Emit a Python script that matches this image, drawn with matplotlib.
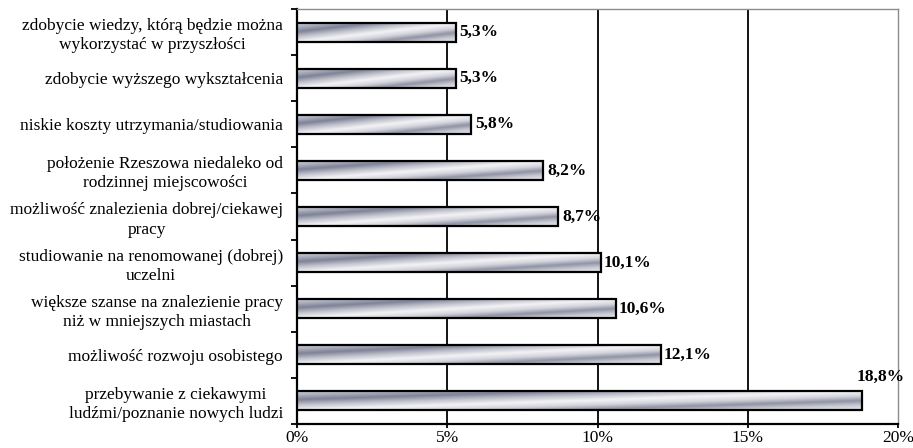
import numpy as np
import matplotlib
matplotlib.use("Agg")
import matplotlib.pyplot as plt
from matplotlib.colors import LinearSegmentedColormap
from matplotlib.patches import Rectangle

categories = [
    "zdobycie wiedzy, którą będzie można\nwykorzystać w przyszłości",
    "zdobycie wyższego wykształcenia",
    "niskie koszty utrzymania/studiowania",
    "położenie Rzeszowa niedaleko od\nrodzinnej miejscowości",
    "możliwość znalezienia dobrej/ciekawej\npracy",
    "studiowanie na renomowanej (dobrej)\nuczelni",
    "większe szanse na znalezienie pracy\nniż w mniejszych miastach",
    "możliwość rozwoju osobistego",
    "przebywanie z ciekawymi\nludźmi/poznanie nowych ludzi",
]
values = [5.3, 5.3, 5.8, 8.2, 8.7, 10.1, 10.6, 12.1, 18.8]
x_ticks = [0, 5, 10, 15, 20]
x_tick_labels = ["0%", "5%", "10%", "15%", "20%"]

plt.rcParams["font.family"] = ["Liberation Serif", "DejaVu Serif"]

fig = plt.figure(figsize=(9.13, 4.48), dpi=100)
ax = fig.add_axes([297 / 913, 1 - 424 / 448, (898 - 297) / 913, (424 - 9) / 448])

# metallic diagonal shading for the bars
stops = [(0.00, "#cfd0d8"), (0.22, "#a8abb9"), (0.45, "#7e8296"),
         (0.72, "#bfc1cc"), (1.00, "#f3f3f6"), (1.25, "#d4d5dc"),
         (1.50, "#9093a5"), (1.75, "#c8cad3"), (2.00, "#e6e7eb")]
metal = LinearSegmentedColormap.from_list(
    "metal", [(p / 2.0, c) for p, c in stops])

bar_h = 0.41
ny, nx = 40, 300
vv, uu = np.mgrid[0:1:ny * 1j, 0:1:nx * 1j]
shade = metal((vv + 1.0 * uu) / 2.0)

for i, v in enumerate(values):
    ax.imshow(shade, extent=[0, v, i + bar_h / 2, i - bar_h / 2],
              aspect="auto", interpolation="bilinear", zorder=3)
    ax.add_patch(Rectangle((0, i - bar_h / 2), v, bar_h, fill=False,
                           edgecolor="black", linewidth=1.6, zorder=4))
    label = f"{v:.1f}".replace(".", ",") + "%"
    if i == len(values) - 1:
        ax.annotate(label, (v, i), xytext=(-4, 17), textcoords="offset points",
                    ha="left", va="center", fontsize=12.5, fontweight="bold",
                    annotation_clip=False, zorder=5)
    else:
        ax.annotate(label, (v, i), xytext=(2.5, 0), textcoords="offset points",
                    ha="left", va="center", fontsize=12.5, fontweight="bold",
                    zorder=5)

ax.set_xlim(0, 20)
ax.set_ylim(len(values) - 0.5, -0.5)

for g in x_ticks[1:-1]:
    ax.axvline(g, color="black", linewidth=1.3, zorder=1)

ax.set_xticks(x_ticks)
ax.set_xticklabels(x_tick_labels, fontsize=12.5)
ax.set_yticks(range(len(categories)))
ax.set_yticklabels(categories, fontsize=12.5, multialignment="center",
                   linespacing=1.25)
ax.set_yticks(np.arange(-0.5, len(categories) + 0.5, 1.0), minor=True)
ax.tick_params(axis="y", which="major", length=0, pad=10)
ax.tick_params(axis="y", which="minor", length=4, width=1.3, direction="out")
ax.tick_params(axis="x", which="major", length=3, width=1.3, direction="out",
               pad=1)

for side in ("left", "bottom"):
    ax.spines[side].set_linewidth(1.6)
    ax.spines[side].set_color("black")
for side in ("top", "right"):
    ax.spines[side].set_linewidth(1.0)
    ax.spines[side].set_color("#8c8c8c")

fig.savefig("out.png", dpi=100)
